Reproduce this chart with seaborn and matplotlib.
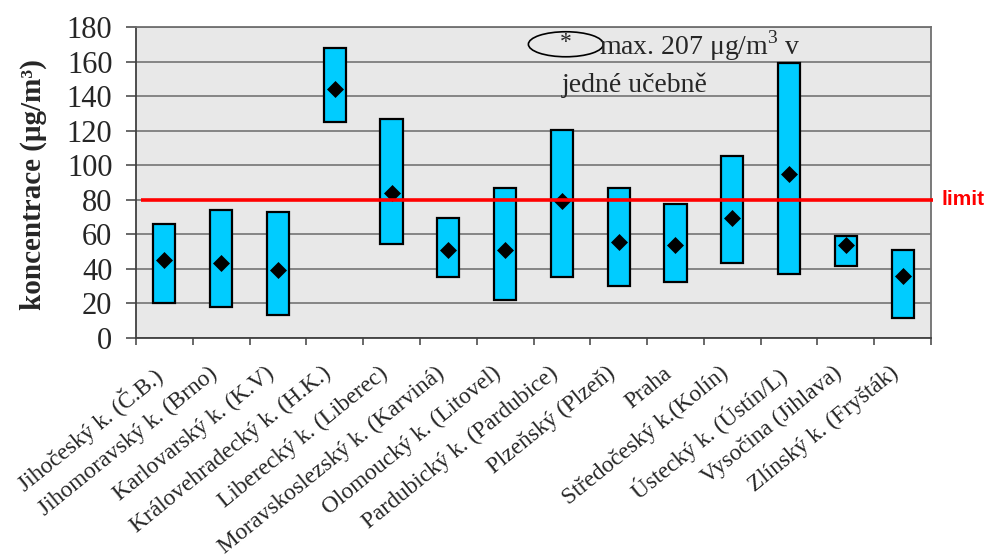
import matplotlib
matplotlib.use("Agg")
import matplotlib.pyplot as plt
import matplotlib.transforms as mtransforms
from matplotlib.patches import Ellipse
import seaborn as sns
import pandas as pd
import numpy as np

# Regions (sampling locations) and measured concentrations in µg/m³
regions = [
    "Jihočeský k. (Č.B.)", "Jihomoravský k. (Brno)", "Karlovarský k. (K.V)",
    "Královehradecký k. (H.K.)", "Liberecký k. (Liberec)",
    "Moravskoslezský k. (Karviná)", "Olomoucký k. (Litovel)",
    "Pardubický k. (Pardubice)", "Plzeňský (Plzeň)", "Praha",
    "Středočeský k.(Kolín)", "Ústecký k. (Ústín/L)", "Vysočina (Jihlava)",
    "Zlínský k. (Fryšták)",
]
minimum = [20, 18, 13, 125, 54.5, 35, 22, 35, 30, 32.5, 43, 37, 41.5, 11.5]
maximum = [66, 74, 73, 168, 126.5, 69.5, 87, 120.5, 87, 77.5, 105.5, 159, 59, 51]
mean = [45, 43, 39.5, 144, 84, 51, 51, 79, 55.5, 53.5, 69.5, 95, 53.5, 36]
limit_value = 80
yticks = list(range(0, 181, 20))

df = pd.DataFrame({
    "region": regions,
    "min": minimum,
    "max": maximum,
    "mean": mean,
})
df["range"] = df["max"] - df["min"]

serif = ["Liberation Serif", "DejaVu Serif"]
sns.set_theme(style="white")
plt.rcParams["font.family"] = serif
plt.rcParams["mathtext.fontset"] = "custom"
plt.rcParams["mathtext.rm"] = "Liberation Serif"

fig = plt.figure(figsize=(9.9, 5.57), dpi=100)
ax = fig.add_axes([136 / 990, 1 - 337.7 / 557, 795 / 990, 310.7 / 557])
ax.set_facecolor("#e8e8e8")

# floating bars: from minimum to maximum
sns.barplot(data=df, x="region", y="range", bottom=df["min"].to_numpy(),
            color="#00ccff", saturation=1, width=0.39,
            edgecolor="black", linewidth=1.6, ax=ax, zorder=3)

# mean values as black diamonds
sns.scatterplot(data=df, x="region", y="mean", marker="D", s=75,
                color="black", edgecolor="black", linewidth=0, ax=ax, zorder=4)

ax.set_xlim(-0.5, len(regions) - 0.5)
ax.set_ylim(0, 180)
ax.set_yticks(yticks)
ax.yaxis.grid(True, color="#6a6a6a", linewidth=1.1, zorder=1)
ax.set_axisbelow(True)

for side in ["left", "bottom", "top", "right"]:
    ax.spines[side].set_visible(True)
    ax.spines[side].set_color("#707070")
    ax.spines[side].set_linewidth(1.3)
ax.spines["left"].set_color("#404040")
ax.spines["bottom"].set_color("#404040")

ax.tick_params(axis="y", which="major", left=True, length=7, width=1.1,
               color="#404040", labelsize=22, pad=10)
ax.set_xticks(np.arange(len(regions)))
ax.set_xticks(np.arange(len(regions) + 1) - 0.5, minor=True)
ax.tick_params(axis="x", which="major", bottom=False, length=0, pad=0)
ax.tick_params(axis="x", which="minor", bottom=True, length=5, width=1.1,
               color="#404040")
ax.set_xticklabels(regions, rotation=39, ha="right", va="top",
                   rotation_mode="anchor", fontsize=16.8)
shift = mtransforms.ScaledTranslation(-13 / 100, -25 / 100, fig.dpi_scale_trans)
for lab in ax.get_xticklabels():
    lab.set_transform(lab.get_transform() + shift)

ax.set_xlabel("")
ax.set_ylabel("koncentrace (μg/m³)", fontsize=21, fontweight="bold")
ax.yaxis.set_label_coords(-0.112, 0.493)

# limit line, running slightly past the right border
ax.plot([-0.41, 13.53], [limit_value, limit_value], color="#ff0000",
        linewidth=2.6, zorder=5, clip_on=False, solid_capstyle="butt")
ax.text(13.68, limit_value, "limit", color="#ff0000", fontsize=15,
        fontweight="bold", family=["Liberation Sans", "DejaVu Sans"],
        va="center", ha="left", clip_on=False)

# note about the maximum measured in one classroom
ax.add_patch(Ellipse((7.07, 170), 1.32, 14.5, fill=False, edgecolor="black",
                     linewidth=1.2, zorder=6, clip_on=False))
ax.text(7.07, 171, "*", fontsize=17, ha="center", va="center", zorder=7)
ax.text(7.66, 164, r"max. 207 μg/m$^{3}$ v", fontsize=20, ha="left",
        va="baseline", zorder=7)
ax.text(7.0, 142.5, "jedné učebně", fontsize=20, ha="left",
        va="baseline", zorder=7)

fig.savefig("out.png", dpi=100)
